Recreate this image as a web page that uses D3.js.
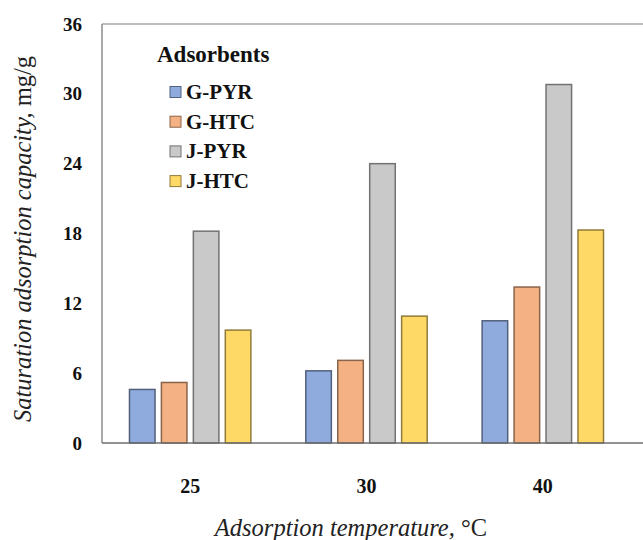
<!DOCTYPE html>
<html>
<head>
<meta charset="utf-8">
<script src="https://cdn.jsdelivr.net/npm/d3@7"></script>
<style>
body { margin: 0; background: #fff; }
svg text { font-family: "Liberation Serif", "Times New Roman", serif; }
</style>
</head>
<body>
<div id="chart"></div>
<script>
var width = 643;
var height = 540;

// data
var temps = ["25", "30", "40"];
var adsorbents = ["G-PYR", "G-HTC", "J-PYR", "J-HTC"];
var gpyr = [4.6, 6.2, 10.5];
var ghtc = [5.2, 7.1, 13.4];
var jpyr = [18.2, 24.0, 30.8];
var jhtc = [9.7, 10.9, 18.3];
var yTicks = [0, 6, 12, 18, 24, 30, 36];
var colors = ["#8faadc", "#f4b183", "#c9c9c9", "#ffd966"];

var series = [gpyr, ghtc, jpyr, jhtc];
var rows = [];
temps.forEach(function(t, i) {
	adsorbents.forEach(function(a, j) {
		rows.push({temp: t, ads: a, idx: j, value: series[j][i]});
	});
});

// plot box (note: "top" is reserved on window, so use plot_*)
var plot_left = 102, plot_right = 631, plot_top = 24, plot_bottom = 443;

var svg = d3.select("#chart").append("svg")
	.attr("width", width)
	.attr("height", height);

var x = d3.scaleBand().domain(temps).range([plot_left, plot_right]).paddingInner(0).paddingOuter(0);
var x1 = d3.scaleBand().domain(adsorbents).range([0, x.bandwidth()]).paddingInner(0.2).paddingOuter(0.86);
var y = d3.scaleLinear().domain([0, 36]).range([plot_bottom, plot_top]);

// frame (top + left), right side runs off the picture
svg.append("line").attr("x1", plot_left).attr("x2", width).attr("y1", plot_top).attr("y2", plot_top)
	.attr("stroke", "#a6a6a6").attr("stroke-width", 1.5);
svg.append("line").attr("x1", plot_left).attr("x2", plot_left).attr("y1", plot_top).attr("y2", plot_bottom)
	.attr("stroke", "#8c8c8c").attr("stroke-width", 1.5);

// bars
svg.selectAll("rect.bar")
	.data(rows)
	.enter()
	.append("rect")
	.attr("class", "bar")
	.attr("x", function(d) { return x(d.temp) + x1(d.ads); })
	.attr("width", x1.bandwidth())
	.attr("y", function(d) { return y(d.value); })
	.attr("height", function(d) { return y(0) - y(d.value); })
	.attr("fill", function(d) { return colors[d.idx]; })
	.attr("stroke", function(d) { return d3.color(colors[d.idx]).darker(1.6); })
	.attr("stroke-width", 1.5);

// x axis line
svg.append("line").attr("x1", plot_left).attr("x2", width).attr("y1", plot_bottom).attr("y2", plot_bottom)
	.attr("stroke", "#6e6e6e").attr("stroke-width", 1.5);

// y tick labels
var yAxis = d3.axisLeft(y).tickValues(yTicks).tickSize(0).tickPadding(20);
var gy = svg.append("g").attr("transform", "translate(" + plot_left + ",0)").call(yAxis);
gy.select(".domain").remove();
gy.selectAll("text")
	.style("font-family", "Liberation Serif")
	.style("font-size", "19px")
	.style("font-weight", "bold")
	.attr("fill", "#111");

// x tick labels
var xAxis = d3.axisBottom(x).tickSize(0).tickPadding(36);
var gx = svg.append("g").attr("transform", "translate(0," + plot_bottom + ")").call(xAxis);
gx.select(".domain").remove();
gx.selectAll("text")
	.style("font-family", "Liberation Serif")
	.style("font-size", "20px")
	.style("font-weight", "bold")
	.attr("fill", "#111");

// axis titles
var xt = svg.append("text")
	.attr("x", 351).attr("y", 536)
	.attr("text-anchor", "middle")
	.style("font-size", "24.5px")
	.attr("fill", "#222");
xt.append("tspan").style("font-style", "italic").text("Adsorption temperature, ");
xt.append("tspan").text("°C");

var yt = svg.append("text")
	.attr("transform", "translate(31,239) rotate(-90)")
	.attr("text-anchor", "middle")
	.style("font-size", "24.5px")
	.attr("fill", "#222");
yt.append("tspan").style("font-style", "italic").text("Saturation adsorption capacity, ");
yt.append("tspan").text("mg/g");

// legend
var legend = svg.append("g").attr("class", "legend");
legend.append("text")
	.attr("x", 157).attr("y", 62)
	.style("font-size", "23px")
	.style("font-weight", "bold")
	.attr("fill", "#111")
	.text("Adsorbents");

var items = legend.selectAll("g.item")
	.data(adsorbents)
	.enter()
	.append("g")
	.attr("class", "item")
	.attr("transform", function(d, i) { return "translate(170," + (92 + i * 29.7) + ")"; });
items.append("rect")
	.attr("x", 0).attr("y", -5.5).attr("width", 11).attr("height", 11)
	.attr("fill", function(d, i) { return colors[i]; })
	.attr("stroke", function(d, i) { return d3.color(colors[i]).darker(1.6); })
	.attr("stroke-width", 1);
items.append("text")
	.attr("x", 16).attr("y", 7)
	.style("font-size", "21px")
	.style("font-weight", "bold")
	.attr("fill", "#111")
	.text(function(d) { return d; });
</script>
</body>
</html>
